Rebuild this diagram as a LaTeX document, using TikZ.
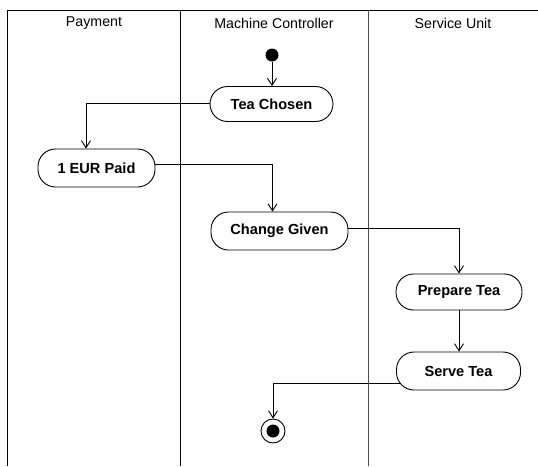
\documentclass[tikz,border=0pt]{standalone}
\usepackage{fontspec}
\setmainfont{Liberation Sans}
\usetikzlibrary{arrows.meta,backgrounds}
\tikzset{
  act/.style={draw, line width=0.9pt, fill=white, rectangle, rounded corners=17.5pt,
    inner sep=0pt, font=\fontsize{14.6}{16}\selectfont\bfseries},
  lane/.style={line width=0.9pt},
  head/.style={font=\fontsize{14.2}{16}\selectfont},
  flow/.style={line width=0.9pt, -{Straight Barb[length=7pt,width=9pt,line width=0.9pt]}},
}
\begin{document}
\begin{tikzpicture}[x=1pt,y=-1pt]
\useasboundingbox (0,0) rectangle (538,466);
% lanes
\draw[lane] (538,10) -- (7.5,10) -- (7.5,466);
\draw[lane] (180,10) -- (180,466);
\draw[lane, black!70] (368,10) -- (368,466);
\node[head] (h1) at (94,23) {Payment};
\node[head] (h2) at (274,23) {Machine Controller};
\node[head] (h3) at (453,23) {Service Unit};
% nodes
\node[circle, fill=black, minimum size=13pt, inner sep=0pt] (start) at (272,55) {};
\node[act, minimum width=123pt, minimum height=35pt] (tea) at (271.5,104) {Tea Chosen};
\node[act, minimum width=117pt, minimum height=38pt] (eur) at (96.5,168) {1 EUR Paid};
\node[act, minimum width=137pt, minimum height=38pt] (change) at (279.5,231) {Change Given};
\node[act, minimum width=126pt, minimum height=36pt] (prepare) at (459,292) {Prepare Tea};
\node[act, minimum width=124pt, minimum height=38pt] (serve) at (458.5,371) {Serve Tea};
\node[circle, draw, line width=0.9pt, fill=white, minimum size=24pt, inner sep=0pt] (end) at (273,431) {};
\node[circle, fill=black, minimum size=13pt, inner sep=0pt] (endin) at (end.center) {};
% flows
\begin{scope}[on background layer]
\draw[flow] (start.south) -- (start.south |- tea.north);
\draw[flow] ([yshift=1pt]tea.center) -| ([xshift=-10.5pt]eur.north);
\draw[flow] ([yshift=4pt]eur.center) -| ([xshift=-7pt]change.north);
\draw[flow] ([yshift=3pt]change.center) -| (prepare.north);
\draw[flow] (prepare.south) -- (prepare.south |- serve.north);
\draw[flow] ([yshift=-12pt]serve.center) -| (end.north);
\end{scope}
\end{tikzpicture}
\end{document}
